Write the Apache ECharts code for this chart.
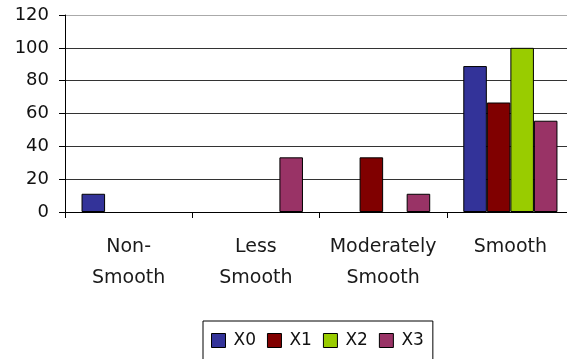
<!DOCTYPE html>
<html>
<head>
<meta charset="utf-8">
<script src="https://cdn.jsdelivr.net/npm/echarts@6/dist/echarts.min.js"></script>
<style>
  html, body { margin: 0; padding: 0; background: #fff; overflow: hidden; }
  #chart { width: 574px; height: 359px; }
</style>
</head>
<body>
<div id="chart"></div>
<script>
// Smoothness categories on the x axis
const categories = ['Non-\nSmooth', 'Less\nSmooth', 'Moderately\nSmooth', 'Smooth'];
// Percentage of samples per group
const x0 = [11.1, 0, 0, 88.9];
const x1 = [0, 0, 33.3, 66.7];
const x2 = [0, 0, 0, 100];
const x3 = [0, 33.3, 11.1, 55.6];
const seriesNames = ['X0', 'X1', 'X2', 'X3'];
const seriesColors = ['#333399', '#800000', '#99cc00', '#993366'];
const yTicks = [0, 20, 40, 60, 80, 100, 120];

const FONT = 'DejaVu Sans';
const values = [x0, x1, x2, x3];

// Empty groups get no outline so nothing is drawn on the baseline
const toItems = (arr) => arr.map(v => (v === 0
  ? { value: v, itemStyle: { borderWidth: 0, opacity: 0 } }
  : v));

const chart = echarts.init(document.getElementById('chart'), null, { renderer: 'canvas' });
chart.setOption({
  animation: false,
  backgroundColor: '#ffffff',
  grid: { left: 65, right: 0, top: 15, bottom: 147, containLabel: false },
  legend: {
    data: seriesNames,
    top: 321,
    left: 203,
    itemWidth: 14,
    itemHeight: 14,
    itemGap: 11,
    padding: [11, 9, 40, 8],
    borderColor: '#000',
    borderWidth: 1,
    icon: 'rect',
    itemStyle: { borderColor: '#000', borderWidth: 1 },
    textStyle: { fontFamily: FONT, fontSize: 17, color: '#111', padding: [0, 0, 0, 3] }
  },
  xAxis: {
    type: 'category',
    data: categories,
    axisLine: { lineStyle: { color: '#000', width: 1 } },
    axisTick: { show: true, length: 6, alignWithLabel: false, lineStyle: { color: '#000' } },
    axisLabel: {
      interval: 0,
      margin: 20,
      fontFamily: FONT,
      fontSize: 19,
      lineHeight: 31,
      color: '#1a1a1a'
    },
    splitLine: { show: false }
  },
  yAxis: {
    type: 'value',
    min: yTicks[0],
    max: yTicks[yTicks.length - 1],
    interval: 20,
    axisLine: { show: true, lineStyle: { color: '#000', width: 1 } },
    axisTick: { show: true, length: 6, lineStyle: { color: '#000' } },
    axisLabel: { margin: 16, fontFamily: FONT, fontSize: 18, color: '#111' },
    splitLine: {
      show: true,
      lineStyle: { color: ['#333', '#333', '#333', '#333', '#333', '#333', '#aaa'], width: 1 }
    }
  },
  series: seriesNames.map((name, i) => ({
    name,
    type: 'bar',
    data: toItems(values[i]),
    barGap: '0%',
    barCategoryGap: '26%',
    itemStyle: { color: seriesColors[i], borderColor: '#000', borderWidth: 1 }
  }))
});
</script>
</body>
</html>
